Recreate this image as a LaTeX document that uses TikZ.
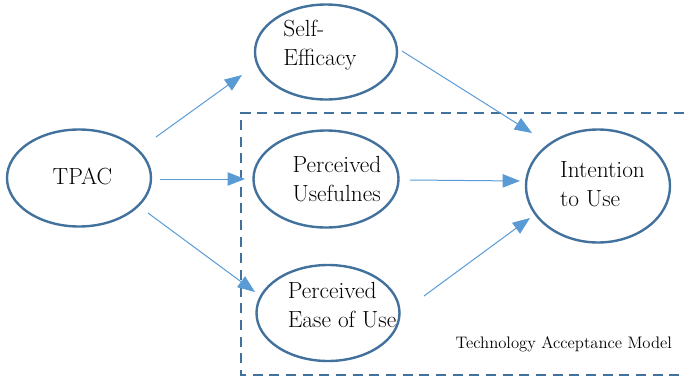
\documentclass[tikz,border=0pt]{standalone}
\usetikzlibrary{arrows.meta,calc,shapes.geometric}
\definecolor{ringblue}{HTML}{41719C}
\definecolor{arrowblue}{HTML}{5B9BD5}
\begin{document}
\begin{tikzpicture}[x=0.75pt,y=-0.75pt,>={Triangle[length=13pt,width=10pt]},
  construct/.style={ellipse,draw=ringblue,line width=1.8pt,inner sep=0pt},
  caption/.style={align=left,inner sep=0pt,font=\fontsize{17.5}{21.75}\selectfont},
  link/.style={->,draw=arrowblue,line width=0.75pt}]
\useasboundingbox (0,0) rectangle (689,382);
% the extended part of the model
\draw[ringblue,line width=1.9pt,dash pattern=on 7.5pt off 5pt]
  (684,113) -- (241,113) -- (241,375) -- (684,375);
\node[font=\fontsize{12.5}{15}\selectfont,anchor=base west] (tam) at (451,348) {Technology Acceptance Model};
% constructs
\node[construct,minimum width=108pt,minimum height=72.75pt,
  label={[caption,shift={(3.5,-1.5)}]center:TPAC}] (tpac) at (79,178) {};
\node[construct,minimum width=106.5pt,minimum height=71.25pt,
  label={[caption,shift={(-6,-7)}]center:{Self-\\Efficacy}}] (se) at (326,52) {};
\node[construct,minimum width=108.75pt,minimum height=72.75pt,
  label={[caption,shift={(11,0)}]center:{Perceived\\ Usefulnes}}] (pu) at (326,179) {};
\node[construct,minimum width=107.25pt,minimum height=72pt,
  label={[caption,shift={(14,-8)}]center:{Perceived\\Ease of Use}}] (peu) at (328,313) {};
\node[construct,minimum width=108pt,minimum height=84.75pt,
  label={[caption,shift={(4.5,-1.5)}]center:{Intention\\to Use}}] (itu) at (598,186) {};
% paths
\draw[link] ($(tpac)+(77,-41)$) -- ($(se)+(-84,23)$);
\draw[link] ($(tpac)+(81,1)$) -- ($(pu)+(-81,0)$);
\draw[link] ($(tpac)+(69,35)$) -- ($(peu)+(-73,-21)$);
\draw[link] ($(se)+(76,-1)$) -- ($(itu)+(-66,-53)$);
\draw[link] ($(pu)+(84,1)$) -- ($(itu)+(-78,-5)$);
\draw[link] ($(peu)+(96,-17)$) -- ($(itu)+(-68,32)$);
\end{tikzpicture}
\end{document}
